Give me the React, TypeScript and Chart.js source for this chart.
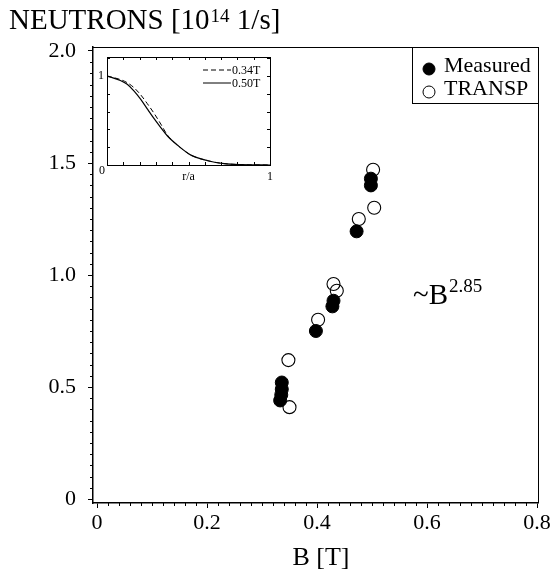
import React, { useEffect, useRef } from "react";
import { Chart, registerables } from "chart.js";
Chart.register(...registerables);

// ---- data ----
const measuredB = [0.333, 0.335, 0.336, 0.336, 0.398, 0.428, 0.43, 0.472, 0.498, 0.498];
const measuredN = [0.44, 0.465, 0.49, 0.52, 0.75, 0.86, 0.885, 1.195, 1.4, 1.43];
const transpB = [0.348, 0.35, 0.402, 0.43, 0.436, 0.476, 0.502, 0.504];
const transpN = [0.62, 0.41, 0.8, 0.96, 0.93, 1.25, 1.47, 1.3];
const xTicks = [0, 0.2, 0.4, 0.6, 0.8];
const yTicks = [0, 0.5, 1.0, 1.5, 2.0];
const seriesLabels = ["Measured", "TRANSP"];

const profileR = [0, 0.082, 0.124, 0.165, 0.206, 0.247, 0.289, 0.33, 0.371, 0.433, 0.515, 0.619, 0.72, 0.825, 1];
const profile050 = [1, 0.95, 0.907, 0.833, 0.74, 0.63, 0.52, 0.42, 0.326, 0.222, 0.111, 0.048, 0.015, 0.004, 0];
const profile034 = [1, 0.96, 0.925, 0.87, 0.79, 0.69, 0.58, 0.46, 0.335, 0.222, 0.111, 0.048, 0.015, 0.004, 0];
const profileLabels = ["0.34T", "0.50T"];
const insetXTicks = [0, 0.5, 1];
const insetXLabels = ["0", "r/a", "1"];
const insetYTicks = [1];

const FONT = "'Liberation Serif', 'Times New Roman', Times, serif";

const X_MIN = -4 / 550;
const X_MAX = 0.8 + 1 / 550;
const Y_MIN = -4 / 224;
const Y_MAX = 2 + 4 / 224;

const mainDecor = {
  id: "mainDecor",
  afterDraw(chart: any) {
    const ctx = chart.ctx;
    const ca = chart.chartArea;
    const xs = chart.scales.x;
    const ys = chart.scales.y;
    ctx.save();
    ctx.strokeStyle = "#000";
    ctx.fillStyle = "#000";
    // frame top/right
    ctx.lineWidth = 1;
    ctx.beginPath();
    ctx.moveTo(ca.left, ca.top + 0.5);
    ctx.lineTo(ca.right + 0.5, ca.top + 0.5);
    ctx.lineTo(ca.right + 0.5, ca.bottom);
    ctx.stroke();
    // minor ticks
    ctx.lineWidth = 1;
    ctx.beginPath();
    for (let i = 1; i < 40; i++) {
      if (i % 10 === 0) continue;
      const y = Math.round(ys.getPixelForValue(i * 0.05)) + 0.5;
      ctx.moveTo(ca.left, y);
      ctx.lineTo(ca.left - 3, y);
    }
    for (let i = 1; i < 40; i++) {
      if (i % 10 === 0) continue;
      const x = Math.round(xs.getPixelForValue(i * 0.02)) + 0.5;
      ctx.moveTo(x, ca.bottom);
      ctx.lineTo(x, ca.bottom + 3);
    }
    ctx.stroke();

    // legend box
    const lx0 = 412, ly0 = ca.top, lx1 = ca.right, ly1 = 103;
    ctx.lineWidth = 1;
    ctx.strokeRect(lx0 + 0.5, ly0 + 0.5, lx1 - lx0, ly1 - ly0);
    ctx.font = `22px ${FONT}`;
    ctx.textBaseline = "alphabetic";
    ctx.textAlign = "left";
    const ds = chart.data.datasets;
    const rows = [69, 92];
    for (let i = 0; i < 2; i++) {
      ctx.beginPath();
      ctx.arc(429, rows[i], 6, 0, Math.PI * 2);
      if (i === 0) {
        ctx.fill();
      } else {
        ctx.fillStyle = "#fff";
        ctx.fill();
        ctx.fillStyle = "#000";
      }
      ctx.lineWidth = 1;
      ctx.stroke();
      ctx.fillText(ds[i].label, 444, rows[i] + 3);
    }

    // annotation ~B^2.85
    ctx.font = `29px ${FONT}`;
    ctx.fillText("~B", 413, 304);
    const w = ctx.measureText("~B").width;
    ctx.font = `19px ${FONT}`;
    ctx.fillText("2.85", 413 + w + 1, 292);

    // y title
    ctx.font = `29px ${FONT}`;
    const t1 = "NEUTRONS [10";
    ctx.fillText(t1, 9, 29);
    let tx = 9 + ctx.measureText(t1).width;
    ctx.font = `19px ${FONT}`;
    ctx.fillText("14", tx + 1, 22);
    tx += ctx.measureText("14").width + 1;
    ctx.font = `29px ${FONT}`;
    ctx.fillText(" 1/s]", tx, 29);

    // x title
    ctx.font = `26px ${FONT}`;
    ctx.textAlign = "center";
    ctx.fillText("B [T]", 321, 565);
    ctx.restore();
  },
};

const insetDecor = {
  id: "insetDecor",
  afterDraw(chart: any) {
    const ctx = chart.ctx;
    const ca = chart.chartArea;
    const xs = chart.scales.x;
    const ys = chart.scales.y;
    ctx.save();
    ctx.strokeStyle = "#000";
    ctx.fillStyle = "#000";
    ctx.lineWidth = 1;
    ctx.strokeRect(ca.left + 0.5, ca.top + 0.5, ca.right - ca.left, ca.bottom - ca.top);
    ctx.beginPath();
    for (let i = 1; i < 10; i++) {
      const x = Math.round(xs.getPixelForValue(i * 0.1)) + 0.5;
      ctx.moveTo(x, ca.bottom);
      ctx.lineTo(x, ca.bottom - 3);
      ctx.moveTo(x, ca.top);
      ctx.lineTo(x, ca.top + 3);
    }
    for (let i = 1; i <= 6; i++) {
      const y = Math.round(ys.getPixelForValue(i * 0.2)) + 0.5;
      if (y <= ca.top + 1) continue;
      ctx.moveTo(ca.left, y);
      ctx.lineTo(ca.left + 3, y);
      ctx.moveTo(ca.right, y);
      ctx.lineTo(ca.right - 3, y);
    }
    ctx.stroke();

    // tick labels
    ctx.font = `12px ${FONT}`;
    ctx.textBaseline = "alphabetic";
    ctx.textAlign = "center";
    insetXTicks.forEach((v, i) => {
      const x = xs.getPixelForValue(v);
      if (i === 0) {
        ctx.fillText(insetXLabels[i], x - 5, ca.bottom + 9);
      } else {
        ctx.fillText(insetXLabels[i], x, ca.bottom + 15);
      }
    });
    ctx.textAlign = "right";
    ctx.textBaseline = "middle";
    insetYTicks.forEach((v) => {
      ctx.fillText(String(v), ca.left - 3, ys.getPixelForValue(v));
    });

    // legend
    const ds = chart.data.datasets;
    const rows = [20, 33];
    ctx.font = `12px ${FONT}`;
    ctx.textAlign = "left";
    ctx.textBaseline = "alphabetic";
    for (let i = 0; i < 2; i++) {
      ctx.beginPath();
      ctx.setLineDash(ds[i].borderDash || []);
      ctx.moveTo(118, rows[i]);
      ctx.lineTo(146, rows[i]);
      ctx.stroke();
      ctx.setLineDash([]);
      ctx.fillText(ds[i].label, 147, rows[i] + 4);
    }
    ctx.restore();
  },
};

export default function App() {
  const mainRef = useRef<HTMLCanvasElement>(null);
  const insetRef = useRef<HTMLCanvasElement>(null);

  useEffect(() => {
    const main = new Chart(mainRef.current as HTMLCanvasElement, {
      type: "scatter",
      data: {
        datasets: [
          {
            label: seriesLabels[0],
            data: measuredB.map((b, i) => ({ x: b, y: measuredN[i] })),
            pointRadius: 6.5,
            pointBackgroundColor: "#000",
            pointBorderColor: "#000",
            pointBorderWidth: 1,
          },
          {
            label: seriesLabels[1],
            data: transpB.map((b, i) => ({ x: b, y: transpN[i] })),
            pointRadius: 6.5,
            pointBackgroundColor: "rgba(255,255,255,0)",
            pointBorderColor: "#000",
            pointBorderWidth: 1.1,
          },
        ],
      },
      options: {
        animation: false,
        responsive: false,
        devicePixelRatio: 1,
        layout: { padding: { top: 47, right: 19, left: 0, bottom: 0 } },
        plugins: { legend: { display: false }, title: { display: false }, tooltip: { enabled: false } },
        scales: {
          x: {
            type: "linear",
            min: X_MIN,
            max: X_MAX,
            afterBuildTicks: (s: any) => {
              s.ticks = xTicks.map((v) => ({ value: v }));
            },
            afterFit: (s: any) => {
              s.height = 72;
            },
            grid: { drawOnChartArea: false, drawTicks: true, tickLength: 5, color: "#000", lineWidth: 1 },
            border: { display: true, color: "#000", width: 1.5 },
            ticks: {
              font: { family: FONT, size: 22 },
              color: "#000",
              padding: 2,
              maxRotation: 0,
              autoSkip: false,
              callback: (v: any) => (v === 0 ? "0" : Number(v).toFixed(1)),
            },
          },
          y: {
            type: "linear",
            min: Y_MIN,
            max: Y_MAX,
            afterBuildTicks: (s: any) => {
              s.ticks = yTicks.map((v) => ({ value: v }));
            },
            afterFit: (s: any) => {
              s.width = 93;
            },
            grid: { drawOnChartArea: false, drawTicks: true, tickLength: 5, color: "#000", lineWidth: 1 },
            border: { display: true, color: "#000", width: 1.5 },
            ticks: {
              font: { family: FONT, size: 22 },
              color: "#000",
              padding: 12,
              autoSkip: false,
              callback: (v: any) => (v === 0 ? "0" : Number(v).toFixed(1)),
            },
          },
        },
      },
      plugins: [mainDecor],
    } as any);

    const inset = new Chart(insetRef.current as HTMLCanvasElement, {
      type: "line",
      data: {
        datasets: [
          {
            label: profileLabels[0],
            data: profileR.map((r, i) => ({ x: r, y: profile034[i] })),
            borderColor: "#000",
            borderWidth: 1,
            borderDash: [5, 3],
            pointRadius: 0,
            cubicInterpolationMode: "monotone",
            fill: false,
          },
          {
            label: profileLabels[1],
            data: profileR.map((r, i) => ({ x: r, y: profile050[i] })),
            borderColor: "#000",
            borderWidth: 1.2,
            pointRadius: 0,
            cubicInterpolationMode: "monotone",
            fill: false,
          },
        ],
      },
      options: {
        animation: false,
        responsive: false,
        devicePixelRatio: 1,
        layout: { padding: { top: 7, right: 10, left: 0, bottom: 0 } },
        plugins: { legend: { display: false }, title: { display: false }, tooltip: { enabled: false } },
        scales: {
          x: {
            type: "linear",
            min: 0,
            max: 1,
            afterBuildTicks: (s: any) => {
              s.ticks = insetXTicks.map((v) => ({ value: v }));
            },
            afterFit: (s: any) => {
              s.height = 20;
            },
            grid: { display: false },
            border: { display: false },
            ticks: { display: false },
          },
          y: {
            type: "linear",
            min: 0,
            max: 108 / 89,
            afterBuildTicks: (s: any) => {
              s.ticks = insetYTicks.map((v) => ({ value: v }));
            },
            afterFit: (s: any) => {
              s.width = 22;
            },
            grid: { display: false },
            border: { display: false },
            ticks: { display: false },
          },
        },
      },
      plugins: [insetDecor],
    } as any);

    return () => {
      main.destroy();
      inset.destroy();
    };
  }, []);

  return (
    <div style={{ position: "fixed", left: 0, top: 0, width: 557, height: 575, background: "#fff" }}>
      <canvas ref={mainRef} width={557} height={575} style={{ position: "absolute", left: 0, top: 0 }} />
      <canvas
        ref={insetRef}
        width={195}
        height={135}
        style={{ position: "absolute", left: 85, top: 50, width: 195, height: 135 }}
      />
    </div>
  );
}
